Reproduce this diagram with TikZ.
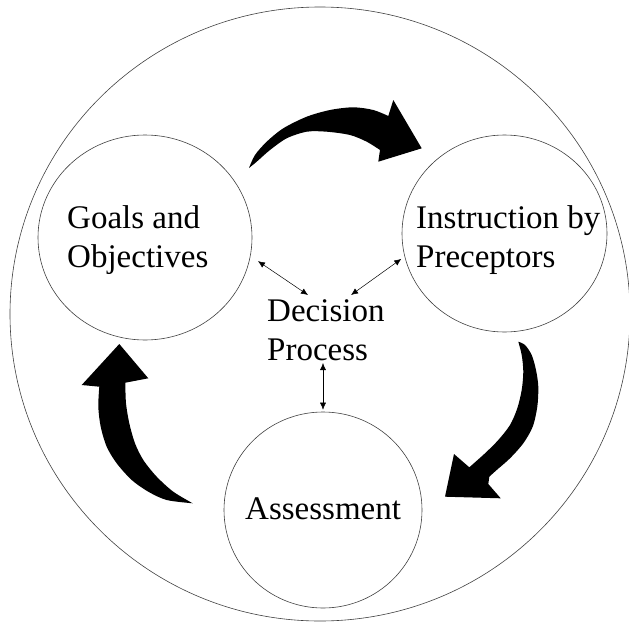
\documentclass[tikz,border=0pt]{standalone}
\usepackage{fontspec}
\setmainfont{Liberation Serif}
\usetikzlibrary{shapes.geometric,arrows.meta}

\tikzset{
    stage/.style={draw=black!75, line width=0.6pt, ellipse, inner sep=0pt},
    lbl/.style={inner sep=0pt, align=left, anchor=base west,
        font=\fontsize{33}{39}\selectfont},
    link/.style={{Latex[length=7pt,width=6pt]}-{Latex[length=7pt,width=6pt]}, line width=0.5pt},
    bigarrow/.style={fill=black}
}

\begin{document}
\begin{tikzpicture}[x=1pt, y=-1pt]
    \useasboundingbox (0,0) rectangle (629,621);
    % outer ring
    \draw[black!75, line width=0.6pt] (320,314) ellipse [x radius=310pt, y radius=307pt];

    % the three stages
    \node[stage, minimum width=214pt, minimum height=205pt] (goals) at (145,237.5) {};
    \node[stage, minimum width=205pt, minimum height=197pt] (instr) at (504.5,233.5) {};
    \node[stage, minimum width=198pt, minimum height=196pt] (assess) at (323,510) {};

    % base is the last line here
    \node[lbl] (goalstext) at (67,267) {Goals and\\Objectives};
    \node[lbl] (instrtext) at (416,267) {Instruction by\\Preceptors};
    \node[lbl] (assesstext) at (245,519) {Assessment};
    \node[lbl] (dec) at (267,360) {Decision\\Process};

    % links to the decision process
    \coordinate (dl) at (308,295);
    \coordinate (dr) at (351,295);
    \coordinate (db) at (323,363);
    \draw[link, shorten <=9pt] (goals.-10) -- (dl);
    \draw[link, shorten <=4pt] (instr.193) -- (dr);
    \draw[link, shorten >=2pt] (db) -- (assess.north);

    % top arrow
    \fill[bigarrow] plot[smooth] coordinates {(249,168) (255,155) (266.7,141.7) (283.3,128.3)
        (306.7,116.7) (330,110) (353.3,107.3) (373.3,110) (388.3,116)}
        -- (393.3,100) -- (421.7,148.3) -- (378.3,161.7) -- (380,150)
        -- plot[smooth] coordinates {(380,150) (366.7,141.7) (350,135) (326.7,131.7)
        (306.7,131.7) (286.7,138.3) (270,150) (256.7,161.7) (249,168)} -- cycle;

    % right arrow
    \fill[bigarrow] plot[smooth] coordinates {(518.3,341.7) (525,345) (531.7,355) (536,370)
        (538.3,386.7) (537.3,406.7) (532.7,426.7) (523.3,443.3) (510,458.3) (496.7,470) (489.3,476.7)}
        -- (488.3,484) -- (500.7,498.3) -- (445,496.7) -- (454,454) -- (469.3,467.3)
        -- plot[smooth] coordinates {(469.3,467.3) (485,453.3) (498.3,440) (510,425) (517.3,408.3)
        (521.7,390) (523.3,371.7) (521.7,355) (518.3,341.7)} -- cycle;

    % left arrow
    \fill[bigarrow] (119.3,344) -- (148.3,378.3) -- (125.3,382.7)
        -- plot[smooth] coordinates {(125.3,382.7) (126,403.3) (129.3,423.3) (135,443.3)
        (143.3,460) (156.7,476.7) (173.3,491.7) (192.7,503.3)}
        -- plot[smooth] coordinates {(192.7,503.3) (166.7,500) (148.3,491.7) (131.7,480)
        (116.7,463.3) (106.7,446.7) (100.7,426.7) (98.3,406.7) (99.3,386.7)}
        -- (81.7,385) -- cycle;
\end{tikzpicture}
\end{document}
